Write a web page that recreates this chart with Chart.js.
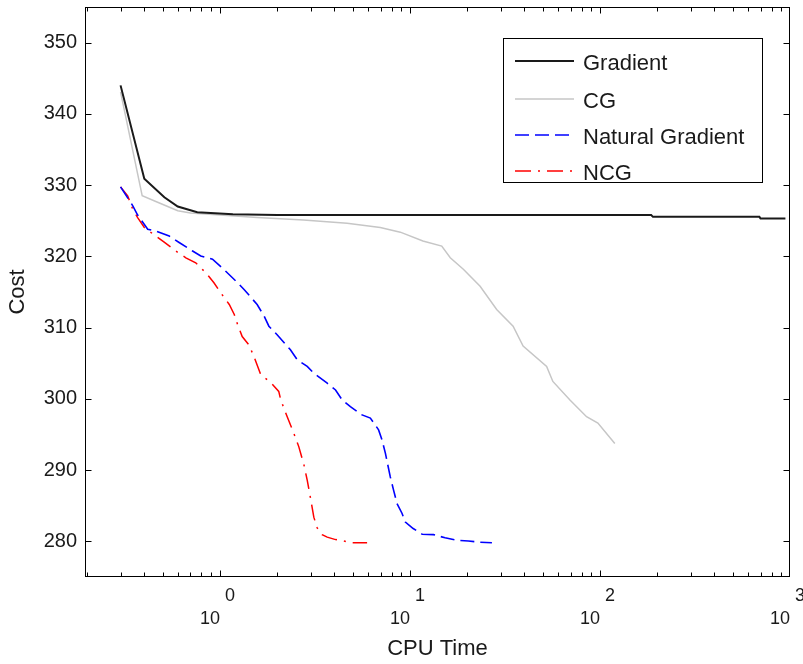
<!DOCTYPE html>
<html>
<head>
<meta charset="utf-8">
<title>Cost vs CPU Time</title>
<script src="https://cdn.jsdelivr.net/npm/chart.js@4.4.0/dist/chart.umd.min.js"></script>
<style>
    html, body { margin: 0; padding: 0; background: #fff; }
    #wrap { width: 803px; height: 664px; }
</style>
</head>
<body>
<div id="wrap"><canvas id="costChart" width="803" height="664"></canvas></div>
<script>
// Values (x = CPU time, log scale)
const gradTime = [0.30, 0.40, 0.51, 0.60, 0.76, 1.17, 2.0, 186, 190, 690, 700, 946];
const gradCost = [344.0, 330.9, 328.3, 327.0, 326.2, 325.9, 325.8, 325.8, 325.55, 325.55, 325.3, 325.3];

const cgTime = [0.30, 0.39, 0.47, 0.60, 0.70, 1.57, 2.75, 4.67, 6.98, 8.9, 11.7, 14.7, 16.3, 19.1,
    23.4, 28.6, 34.9, 39.4, 52.4, 56.5, 69.5, 85, 97.5, 119.7];
const cgCost = [343.1, 328.5, 327.6, 326.4, 326.1, 325.45, 325.1, 324.65, 324.05, 323.4, 322.15, 321.45, 319.8, 318.2,
    315.8, 312.55, 310.2, 307.4, 304.55, 302.45, 299.85, 297.5, 296.6, 293.75];

const ngTime = [0.30, 0.348, 0.369, 0.417, 0.46, 0.541, 0.61, 0.718, 0.793, 0.914, 1.05, 1.24, 1.34, 1.57,
    1.71, 1.81, 2.0, 2.35, 2.55, 2.88, 3.12, 3.67, 4.06, 4.40, 4.86, 5.60, 6.19, 6.84, 7.13, 7.43,
    7.88, 8.20, 8.55, 9.08, 9.46, 10.4, 11.6, 13.3, 15.3, 17.7, 20.3, 22.9, 27.0];
const ngCost = [329.75, 327.1, 325.8, 323.8, 323.55, 322.85, 321.95, 320.75, 320.05, 319.6, 318.15, 316.3, 315.35, 313.25,
    311.6, 310.2, 309.0, 306.9, 305.5, 304.55, 303.6, 302.2, 301.25, 299.85, 298.9, 297.75, 297.3, 295.65, 294.25, 292.35,
    289.05, 287.2, 285.3, 283.95, 282.7, 281.8, 281.0, 280.95, 280.5, 280.15, 280.05, 279.9, 279.8];

const ncgTime = [0.30, 0.327, 0.348, 0.369, 0.40, 0.46, 0.509, 0.586, 0.662, 0.746, 0.843, 0.93, 1.01, 1.12,
    1.19, 1.24, 1.31, 1.42, 1.51, 1.64, 1.85, 2.04, 2.09, 2.26, 2.45, 2.60, 2.77, 2.88, 3.00,
    3.12, 3.25, 3.45, 3.67, 4.06, 4.49, 4.96, 5.95];
const ncgCost = [329.75, 328.5, 326.6, 325.45, 324.05, 322.85, 322.0, 320.75, 319.8, 319.1, 317.7, 316.3, 314.9, 313.25,
    311.85, 310.4, 308.75, 307.6, 305.95, 303.4, 302.3, 301.05, 299.85, 297.5, 295.15, 293.3, 290.7, 288.6, 286.0,
    283.4, 281.9, 280.95, 280.6, 280.25, 280.05, 279.8, 279.8];

const seriesNames = ['Gradient', 'CG', 'Natural Gradient', 'NCG'];

// axis ticks
const xTickValues = [1, 10, 100, 1000];
const xTickExps = ['0', '1', '2', '3'];
const yTickValues = [280, 290, 300, 310, 320, 330, 340, 350];

function toPoints(xs, ys) {
    return xs.map((x, i) => ({ x: x, y: ys[i] }));
}

// draws the box, inward tick marks and the boxed legend (MATLAB look)
const matlabFrame = {
    id: 'matlabFrame',
    afterDraw(chart) {
        const ctx = chart.ctx;
        const a = chart.chartArea;
        const xs = chart.scales.x;
        const ys = chart.scales.y;
        const L = Math.round(a.left) + 0.5, R = Math.round(a.right) - 0.5;
        const T = Math.round(a.top) + 0.5, B = Math.round(a.bottom) - 0.5;
        ctx.save();
        ctx.strokeStyle = '#000';
        ctx.lineWidth = 1;
        ctx.setLineDash([]);
        ctx.beginPath();
        yTickValues.forEach(v => {
            const py = Math.round(ys.getPixelForValue(v)) + 0.5;
            ctx.moveTo(L, py); ctx.lineTo(L + 6, py);
            ctx.moveTo(R, py); ctx.lineTo(R - 6, py);
        });
        // major + minor ticks on the log axis
        [0.1, 1, 10, 100].forEach(dec => {
            for (let k = 1; k <= 9; k++) {
                const v = dec * k;
                if (v < xs.min || v > xs.max) continue;
                const len = k === 1 ? 6 : 4;
                const px = Math.round(xs.getPixelForValue(v)) + 0.5;
                ctx.moveTo(px, B); ctx.lineTo(px, B - len);
                ctx.moveTo(px, T); ctx.lineTo(px, T + len);
            }
        });
        const pxEnd = Math.round(xs.getPixelForValue(1000)) - 0.5;
        ctx.moveTo(pxEnd, B); ctx.lineTo(pxEnd, B - 6);
        ctx.stroke();
        ctx.strokeRect(L, T, R - L, B - T);

        // legend
        const box = { left: 503.5, top: 38.5, width: 259, height: 144 };
        ctx.fillStyle = '#fff';
        ctx.fillRect(box.left, box.top, box.width, box.height);
        ctx.strokeRect(box.left, box.top, box.width, box.height);
        const rows = [63, 101, 137, 173];
        ctx.font = '22px "Liberation Sans", Arial, sans-serif';
        ctx.textBaseline = 'middle';
        ctx.textAlign = 'left';
        chart.data.datasets.forEach((ds, i) => {
            const y = rows[i];
            ctx.strokeStyle = ds.borderColor;
            ctx.lineWidth = ds.borderWidth;
            ctx.setLineDash(ds.borderDash || []);
            ctx.beginPath();
            ctx.moveTo(515, y - 2);
            ctx.lineTo(574, y - 2);
            ctx.stroke();
            ctx.setLineDash([]);
            ctx.fillStyle = '#1a1a1a';
            ctx.fillText(ds.label, 583, y + 1);
        });
        ctx.restore();
    }
};

const ctx = document.getElementById('costChart').getContext('2d');
const costChart = new Chart(ctx, {
    type: 'line',
    data: {
        datasets: [{
            label: seriesNames[0],
            data: toPoints(gradTime, gradCost),
            borderColor: '#1a1a1a',
            borderWidth: 2,
            pointRadius: 0,
            tension: 0
        }, {
            label: seriesNames[1],
            data: toPoints(cgTime, cgCost),
            borderColor: '#c6c6c6',
            borderWidth: 1.5,
            pointRadius: 0,
            tension: 0
        }, {
            label: seriesNames[2],
            data: toPoints(ngTime, ngCost),
            borderColor: '#0000ff',
            borderWidth: 1.6,
            borderDash: [14, 6],
            pointRadius: 0,
            tension: 0
        }, {
            label: seriesNames[3],
            data: toPoints(ncgTime, ncgCost),
            borderColor: '#ff0000',
            borderWidth: 1.5,
            borderDash: [16, 7, 2, 7],
            pointRadius: 0,
            tension: 0
        }]
    },
    options: {
        responsive: false,
        animation: false,
        devicePixelRatio: 1,
        layout: {
            padding: { left: 0, top: 7, right: 13, bottom: 0 }
        },
        plugins: {
            legend: { display: false },
            tooltip: { enabled: false }
        },
        scales: {
            x: {
                type: 'logarithmic',
                min: 0.195,
                max: 1000,
                border: { display: false },
                grid: { display: false, drawTicks: false },
                afterBuildTicks: function(scale) {
                    scale.ticks = xTickValues.map(v => ({ value: v }));
                },
                afterFit: function(scale) {
                    scale.height = 87;
                    scale.paddingLeft = 0;
                    scale.paddingRight = 0;
                },
                ticks: {
                    autoSkip: false,
                    maxRotation: 0,
                    padding: 8,
                    color: '#1a1a1a',
                    font: { family: '"Liberation Sans", Arial, sans-serif', size: 18, lineHeight: 1.25 },
                    callback: function(value, index) {
                        return ['    ' + xTickExps[index], '10    '];
                    }
                },
                title: {
                    display: true,
                    text: 'CPU Time',
                    color: '#1a1a1a',
                    font: { family: '"Liberation Sans", Arial, sans-serif', size: 22 },
                    padding: { top: 0, bottom: 2 }
                }
            },
            y: {
                type: 'linear',
                min: 275,
                max: 355,
                border: { display: false },
                grid: { display: false, drawTicks: false },
                afterBuildTicks: function(scale) {
                    scale.ticks = yTickValues.map(v => ({ value: v }));
                },
                afterFit: function(scale) {
                    scale.width = 85;
                    scale.paddingTop = 0;
                    scale.paddingBottom = 0;
                },
                ticks: {
                    padding: 8,
                    color: '#1a1a1a',
                    font: { family: '"Liberation Sans", Arial, sans-serif', size: 20 }
                },
                title: {
                    display: true,
                    text: 'Cost',
                    color: '#1a1a1a',
                    font: { family: '"Liberation Sans", Arial, sans-serif', size: 22 },
                    padding: { top: 5, bottom: 0 }
                }
            }
        }
    },
    plugins: [matlabFrame]
});
</script>
</body>
</html>
